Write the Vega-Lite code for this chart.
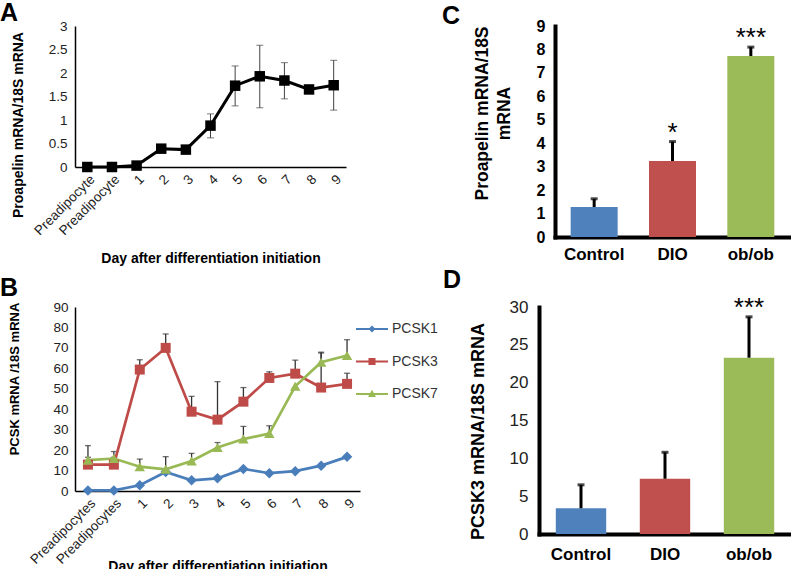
{
  "$schema": "https://vega.github.io/schema/vega-lite/v6.json",
  "background": "white",
  "padding": {"left": 0, "top": 1, "right": 0, "bottom": 0},
  "config": {
    "font": "Liberation Sans",
    "view": {"stroke": null},
    "axis": {"grid": false, "ticks": false, "domainColor": "black", "labelColor": "#222", "titleColor": "black", "labelOverlap": false, "labelSeparation": -100}
  },
  "resolve": {"scale": {"color": "independent", "shape": "independent"}, "legend": {"color": "independent"}},
  "spacing": 1,
  "align": "none",
  "vconcat": [
    {
      "spacing": 96,
      "align": "none",
      "hconcat": [
        {
          "width": 271,
          "height": 141,
          "title": {"text": "A", "anchor": "start", "frame": "group", "fontSize": 25, "fontWeight": "bold", "color": "black", "dx": -75, "dy": 27, "offset": 0, "baseline": "alphabetic"},
          "data": {"values": [
            {"i": 0, "day": "P1", "v": 0, "lo": null, "hi": null},
            {"i": 1, "day": "P2", "v": 0, "lo": null, "hi": null},
            {"i": 2, "day": "1", "v": 0.03, "lo": null, "hi": null},
            {"i": 3, "day": "2", "v": 0.39, "lo": null, "hi": null},
            {"i": 4, "day": "3", "v": 0.37, "lo": null, "hi": null},
            {"i": 5, "day": "4", "v": 0.88, "lo": 0.62, "hi": 1.13},
            {"i": 6, "day": "5", "v": 1.73, "lo": 1.3, "hi": 2.15},
            {"i": 7, "day": "6", "v": 1.93, "lo": 1.26, "hi": 2.59},
            {"i": 8, "day": "7", "v": 1.84, "lo": 1.45, "hi": 2.22},
            {"i": 9, "day": "8", "v": 1.65, "lo": null, "hi": null},
            {"i": 10, "day": "9", "v": 1.74, "lo": 1.21, "hi": 2.27}
          ]},
          "encoding": {
            "x": {
              "field": "day", "type": "ordinal",
              "scale": {"type": "point", "padding": 0.5, "domain": ["P1", "P2", "1", "2", "3", "4", "5", "6", "7", "8", "9"]},
              "axis": {
                "labelExpr": "datum.label == 'P1' || datum.label == 'P2' ? 'Preadipocyte' : datum.label",
                "labelAngle": -45, "labelFontSize": 13.5, "labelPadding": 5, "labelOverlap": false,
                "title": "Day after differentiation initiation", "titleFontSize": 14, "titleFontWeight": "bold",
                "titleY": 91.5, "titleBaseline": "middle",
                "domainWidth": 1.5
              }
            },
            "y": {"field": "v", "type": "quantitative", "scale": {"domain": [0, 3]},
              "axis": {"values": [0, 0.5, 1, 1.5, 2, 2.5, 3], "format": "~g", "labelOverlap": false, "labelSeparation": -100, "title": "Proapelin mRNA/18S mRNA", "titleFontSize": 14, "titleFontWeight": "bold", "titleX": -52.6, "titleY": 98.5, "titleBaseline": "alphabetic", "labelFontSize": 13.5, "labelPadding": 8, "domainWidth": 1.5}}
          },
          "layer": [
            {
              "mark": {"type": "rule", "color": "#404040", "strokeWidth": 1},
              "encoding": {
                "y": {"field": "lo", "type": "quantitative", "scale": {"domain": [0, 3]},
                  "axis": {"values": [0, 0.5, 1, 1.5, 2, 2.5, 3], "format": "~g", "labelOverlap": false, "labelSeparation": -100, "title": "Proapelin mRNA/18S mRNA", "titleFontSize": 14, "titleFontWeight": "bold", "titleX": -52.6, "titleY": 98.5, "titleBaseline": "alphabetic", "labelFontSize": 13.5, "labelPadding": 8, "domainWidth": 1.5}},
                "y2": {"field": "hi"}
              }
            },
            {
              "mark": {"type": "tick", "orient": "horizontal", "size": 7, "thickness": 1, "color": "#404040"},
              "encoding": {"y": {"field": "hi", "type": "quantitative", "scale": {"domain": [0, 3]},
                "axis": {"values": [0, 0.5, 1, 1.5, 2, 2.5, 3], "format": "~g", "labelOverlap": false, "labelSeparation": -100, "title": "Proapelin mRNA/18S mRNA", "titleFontSize": 14, "titleFontWeight": "bold", "titleX": -52.6, "titleY": 98.5, "titleBaseline": "alphabetic", "labelFontSize": 13.5, "labelPadding": 8, "domainWidth": 1.5}}}
            },
            {
              "mark": {"type": "tick", "orient": "horizontal", "size": 7, "thickness": 1, "color": "#404040"},
              "encoding": {"y": {"field": "lo", "type": "quantitative", "scale": {"domain": [0, 3]},
                "axis": {"values": [0, 0.5, 1, 1.5, 2, 2.5, 3], "format": "~g", "labelOverlap": false, "labelSeparation": -100, "title": "Proapelin mRNA/18S mRNA", "titleFontSize": 14, "titleFontWeight": "bold", "titleX": -52.6, "titleY": 98.5, "titleBaseline": "alphabetic", "labelFontSize": 13.5, "labelPadding": 8, "domainWidth": 1.5}}}
            },
            {
              "mark": {"type": "line", "color": "black", "strokeWidth": 3},
              "encoding": {"order": {"field": "i", "type": "quantitative"}}
            },
            {
              "mark": {"type": "point", "shape": "square", "filled": true, "size": 110, "color": "black", "opacity": 1},
              "encoding": {}
            }
          ]
        },
        {
          "width": 235,
          "height": 211,
          "title": {"text": "C", "anchor": "start", "frame": "group", "fontSize": 25, "fontWeight": "bold", "color": "black", "dx": -113, "dy": 31, "offset": 0, "baseline": "alphabetic"},
          "data": {"values": [
            {"group": "Control", "v": 1.28, "hi": 1.63, "sig": ""},
            {"group": "DIO", "v": 3.24, "hi": 4.07, "sig": "*"},
            {"group": "ob/ob", "v": 7.72, "hi": 8.1, "sig": "***"}
          ]},
          "encoding": {
            "x": {
              "field": "group", "type": "nominal", "sort": null,
              "scale": {"paddingInner": 0.4, "paddingOuter": 0.2},
              "axis": {"title": null, "labelAngle": 0, "labelFontSize": 17, "labelFontWeight": "bold", "labelColor": "black", "labelPadding": 9, "domainWidth": 4, "domainCap": "square"}
            },
            "y": {"field": "v", "type": "quantitative", "scale": {"domain": [0, 9]},
              "axis": {"values": [0, 1, 2, 3, 4, 5, 6, 7, 8, 9], "labelOverlap": false, "labelSeparation": -100, "title": ["Proapelin mRNA/18S", "mRNA"], "titleFontSize": 17.5, "titleFontWeight": "bold", "titleLineHeight": 22, "titleX": -68, "titleY": 87, "titleBaseline": "alphabetic", "labelFontSize": 16, "labelFontWeight": "bold", "labelColor": "black", "labelPadding": 10, "domainWidth": 4, "domainCap": "square"}}
          },
          "layer": [
            {
              "mark": {"type": "bar"},
              "encoding": {
                "color": {"field": "group", "type": "nominal", "sort": null, "scale": {"domain": ["Control", "DIO", "ob/ob"], "range": ["#4F81BD", "#C0504D", "#9BBB59"]}, "legend": null}
              }
            },
            {
              "mark": {"type": "rule", "color": "black", "strokeWidth": 3},
              "encoding": {"y2": {"field": "hi"}}
            },
            {
              "mark": {"type": "tick", "orient": "horizontal", "size": 7, "thickness": 3, "color": "black"},
              "encoding": {"y": {"field": "hi", "type": "quantitative", "scale": {"domain": [0, 9]},
                "axis": {"values": [0, 1, 2, 3, 4, 5, 6, 7, 8, 9], "labelOverlap": false, "labelSeparation": -100, "title": ["Proapelin mRNA/18S", "mRNA"], "titleFontSize": 17.5, "titleFontWeight": "bold", "titleLineHeight": 22, "titleX": -68, "titleY": 87, "titleBaseline": "alphabetic", "labelFontSize": 16, "labelFontWeight": "bold", "labelColor": "black", "labelPadding": 10, "domainWidth": 4, "domainCap": "square"}}}
            },
            {
              "mark": {"type": "text", "fontSize": 26, "baseline": "alphabetic", "dy": -1, "color": "black"},
              "encoding": {"y": {"field": "hi", "type": "quantitative", "scale": {"domain": [0, 9]},
                "axis": {"values": [0, 1, 2, 3, 4, 5, 6, 7, 8, 9], "labelOverlap": false, "labelSeparation": -100, "title": ["Proapelin mRNA/18S", "mRNA"], "titleFontSize": 17.5, "titleFontWeight": "bold", "titleLineHeight": 22, "titleX": -68, "titleY": 87, "titleBaseline": "alphabetic", "labelFontSize": 16, "labelFontWeight": "bold", "labelColor": "black", "labelPadding": 10, "domainWidth": 4, "domainCap": "square"}},
                "text": {"field": "sig"}}
            }
          ]
        }
      ]
    },
    {
      "spacing": 5,
      "align": "none",
      "resolve": {"scale": {"color": "independent"}, "legend": {"color": "independent"}},
      "hconcat": [
        {
          "width": 285,
          "height": 184,
          "title": {"text": "B", "anchor": "start", "frame": "group", "fontSize": 25, "fontWeight": "bold", "color": "black", "dx": -75, "dy": 20.5, "offset": 0, "baseline": "alphabetic"},
          "data": {"values": [
            {"i": 0, "day": "P1", "series": "PCSK1", "v": 0.3, "hi": null},
            {"i": 1, "day": "P2", "series": "PCSK1", "v": 0.3, "hi": null},
            {"i": 2, "day": "1", "series": "PCSK1", "v": 2.8, "hi": null},
            {"i": 3, "day": "2", "series": "PCSK1", "v": 9.3, "hi": null},
            {"i": 4, "day": "3", "series": "PCSK1", "v": 5.2, "hi": null},
            {"i": 5, "day": "4", "series": "PCSK1", "v": 6.2, "hi": null},
            {"i": 6, "day": "5", "series": "PCSK1", "v": 10.8, "hi": null},
            {"i": 7, "day": "6", "series": "PCSK1", "v": 8.7, "hi": null},
            {"i": 8, "day": "7", "series": "PCSK1", "v": 9.7, "hi": null},
            {"i": 9, "day": "8", "series": "PCSK1", "v": 12.4, "hi": null},
            {"i": 10, "day": "9", "series": "PCSK1", "v": 16.7, "hi": null},
            {"i": 0, "day": "P1", "series": "PCSK3", "v": 12.9, "hi": 16.5},
            {"i": 1, "day": "P2", "series": "PCSK3", "v": 12.9, "hi": 16.5},
            {"i": 2, "day": "1", "series": "PCSK3", "v": 59.4, "hi": 64.2},
            {"i": 3, "day": "2", "series": "PCSK3", "v": 70.0, "hi": 76.8},
            {"i": 4, "day": "3", "series": "PCSK3", "v": 38.8, "hi": 46.3},
            {"i": 5, "day": "4", "series": "PCSK3", "v": 34.9, "hi": 53.5},
            {"i": 6, "day": "5", "series": "PCSK3", "v": 43.7, "hi": 50.6},
            {"i": 7, "day": "6", "series": "PCSK3", "v": 55.3, "hi": 58.3},
            {"i": 8, "day": "7", "series": "PCSK3", "v": 57.4, "hi": 64.0},
            {"i": 9, "day": "8", "series": "PCSK3", "v": 50.6, "hi": 67.5},
            {"i": 10, "day": "9", "series": "PCSK3", "v": 52.4, "hi": 57.6},
            {"i": 0, "day": "P1", "series": "PCSK7", "v": 15.1, "hi": 22.2},
            {"i": 1, "day": "P2", "series": "PCSK7", "v": 15.9, "hi": 19.3},
            {"i": 2, "day": "1", "series": "PCSK7", "v": 11.9, "hi": 15.6},
            {"i": 3, "day": "2", "series": "PCSK7", "v": 10.6, "hi": 16.8},
            {"i": 4, "day": "3", "series": "PCSK7", "v": 14.7, "hi": 18.4},
            {"i": 5, "day": "4", "series": "PCSK7", "v": 21.3, "hi": 23.7},
            {"i": 6, "day": "5", "series": "PCSK7", "v": 25.4, "hi": 31.6},
            {"i": 7, "day": "6", "series": "PCSK7", "v": 28.1, "hi": 31.9},
            {"i": 8, "day": "7", "series": "PCSK7", "v": 51.2, "hi": null},
            {"i": 9, "day": "8", "series": "PCSK7", "v": 63.0, "hi": 67.9},
            {"i": 10, "day": "9", "series": "PCSK7", "v": 66.3, "hi": 74.0}
          ]},
          "encoding": {
            "x": {
              "field": "day", "type": "ordinal",
              "scale": {"type": "point", "padding": 0.5, "domain": ["P1", "P2", "1", "2", "3", "4", "5", "6", "7", "8", "9"]},
              "axis": {
                "labelExpr": "datum.label == 'P1' || datum.label == 'P2' ? 'Preadipocytes' : datum.label",
                "labelAngle": -45, "labelFontSize": 13.5, "labelPadding": 5, "labelOverlap": false,
                "title": "Day after differentiation initiation", "titleFontSize": 14, "titleFontWeight": "bold",
                "titleY": 75, "titleBaseline": "middle",
                "domainWidth": 1.5
              }
            },
            "y": {"field": "v", "type": "quantitative", "scale": {"domain": [0, 90]},
              "axis": {"values": [0, 10, 20, 30, 40, 50, 60, 70, 80, 90], "labelOverlap": false, "labelSeparation": -100, "title": "PCSK mRNA /18S mRNA", "titleFontSize": 13, "titleFontWeight": "bold", "titleX": -56.5, "titleY": 71.5, "titleBaseline": "alphabetic", "labelFontSize": 13.5, "labelPadding": 7, "domainWidth": 1.5}}
          },
          "layer": [
            {
              "mark": {"type": "rule", "color": "#333", "strokeWidth": 1.3},
              "encoding": {"y2": {"field": "hi"}}
            },
            {
              "mark": {"type": "tick", "orient": "horizontal", "size": 6, "thickness": 1.3, "color": "#333"},
              "encoding": {"y": {"field": "hi", "type": "quantitative", "scale": {"domain": [0, 90]},
                "axis": {"values": [0, 10, 20, 30, 40, 50, 60, 70, 80, 90], "labelOverlap": false, "labelSeparation": -100, "title": "PCSK mRNA /18S mRNA", "titleFontSize": 13, "titleFontWeight": "bold", "titleX": -56.5, "titleY": 71.5, "titleBaseline": "alphabetic", "labelFontSize": 13.5, "labelPadding": 7, "domainWidth": 1.5}}}
            },
            {
              "mark": {"type": "line", "strokeWidth": 2.7},
              "encoding": {
                "order": {"field": "i", "type": "quantitative"},
                "color": {
                  "field": "series", "type": "nominal",
                  "scale": {"domain": ["PCSK1", "PCSK3", "PCSK7"], "range": ["#4A7EBB", "#BE4B48", "#98B954"]},
                  "legend": {
                    "title": null, "orient": "none", "legendX": 281, "legendY": 6,
                    "padding": 0, "symbolSize": 1024, "symbolOffset": 0, "rowPadding": 9.5,
                    "labelFontSize": 14, "labelColor": "#333", "labelOffset": 4,
                    "symbolStrokeWidth": 0,
                    "encode": {
                      "symbols": {
                        "update": {
                          "shape": {"signal": "datum.value == 'PCSK1' ? 'M-1,-0.07H1V0.07H-1ZM-0.22,0L0,-0.22L0.22,0L0,0.22Z' : datum.value == 'PCSK3' ? 'M-1,-0.07H1V0.07H-1ZM-0.22,-0.22H0.22V0.22H-0.22Z' : 'M-1,-0.07H1V0.07H-1ZM0,-0.26L0.25,0.18L-0.25,0.18Z'"},
                          "fill": {"signal": "datum.value == 'PCSK1' ? '#4A7EBB' : datum.value == 'PCSK3' ? '#BE4B48' : '#98B954'"},
                          "stroke": {"value": "transparent"},
                          "opacity": {"value": 1}
                        }
                      }
                    }
                  }
                }
              }
            },
            {
              "transform": [{"filter": "datum.series == 'PCSK1'"}],
              "mark": {"type": "point", "shape": "diamond", "filled": true, "size": 110, "opacity": 1, "color": "#4A7EBB"},
              "encoding": {}
            },
            {
              "transform": [{"filter": "datum.series == 'PCSK3'"}],
              "mark": {"type": "point", "shape": "square", "filled": true, "size": 100, "opacity": 1, "color": "#BE4B48"},
              "encoding": {}
            },
            {
              "transform": [{"filter": "datum.series == 'PCSK7'"}],
              "mark": {"type": "point", "shape": "triangle-up", "filled": true, "size": 110, "opacity": 1, "color": "#98B954"},
              "encoding": {}
            }
          ]
        },
        {
          "width": 252,
          "height": 227,
          "title": {"text": "D", "anchor": "start", "frame": "group", "fontSize": 25, "fontWeight": "bold", "color": "black", "dx": -96, "dy": 18, "offset": 0, "baseline": "alphabetic"},
          "data": {"values": [
            {"group": "Control", "v": 3.4, "hi": 6.5, "sig": ""},
            {"group": "DIO", "v": 7.3, "hi": 10.8, "sig": ""},
            {"group": "ob/ob", "v": 23.3, "hi": 28.7, "sig": "***"}
          ]},
          "encoding": {
            "x": {
              "field": "group", "type": "nominal", "sort": null,
              "scale": {"paddingInner": 0.4, "paddingOuter": 0.2},
              "axis": {"title": null, "labelAngle": 0, "labelFontSize": 17, "labelFontWeight": "bold", "labelColor": "black", "labelPadding": 12, "domainWidth": 4, "domainCap": "square"}
            },
            "y": {"field": "v", "type": "quantitative", "scale": {"domain": [0, 30]},
              "axis": {"values": [0, 5, 10, 15, 20, 25, 30], "labelOverlap": false, "labelSeparation": -100, "title": "PCSK3 mRNA/18S mRNA", "titleFontSize": 18, "titleFontWeight": "bold", "titleX": -56, "titleY": 124, "titleBaseline": "alphabetic", "labelFontSize": 17, "labelColor": "#222", "labelPadding": 11, "domainWidth": 4, "domainCap": "square"}}
          },
          "layer": [
            {
              "mark": {"type": "bar"},
              "encoding": {
                "color": {"field": "group", "type": "nominal", "sort": null, "scale": {"domain": ["Control", "DIO", "ob/ob"], "range": ["#4F81BD", "#C0504D", "#9BBB59"]}, "legend": null}
              }
            },
            {
              "mark": {"type": "rule", "color": "black", "strokeWidth": 3},
              "encoding": {"y2": {"field": "hi"}}
            },
            {
              "mark": {"type": "tick", "orient": "horizontal", "size": 7, "thickness": 3, "color": "black"},
              "encoding": {"y": {"field": "hi", "type": "quantitative", "scale": {"domain": [0, 30]},
                "axis": {"values": [0, 5, 10, 15, 20, 25, 30], "labelOverlap": false, "labelSeparation": -100, "title": "PCSK3 mRNA/18S mRNA", "titleFontSize": 18, "titleFontWeight": "bold", "titleX": -56, "titleY": 124, "titleBaseline": "alphabetic", "labelFontSize": 17, "labelColor": "#222", "labelPadding": 11, "domainWidth": 4, "domainCap": "square"}}}
            },
            {
              "mark": {"type": "text", "fontSize": 26, "baseline": "alphabetic", "dy": -1, "color": "black"},
              "encoding": {"y": {"field": "hi", "type": "quantitative", "scale": {"domain": [0, 30]},
                "axis": {"values": [0, 5, 10, 15, 20, 25, 30], "labelOverlap": false, "labelSeparation": -100, "title": "PCSK3 mRNA/18S mRNA", "titleFontSize": 18, "titleFontWeight": "bold", "titleX": -56, "titleY": 124, "titleBaseline": "alphabetic", "labelFontSize": 17, "labelColor": "#222", "labelPadding": 11, "domainWidth": 4, "domainCap": "square"}},
                "text": {"field": "sig"}}
            }
          ]
        }
      ]
    }
  ]
}
